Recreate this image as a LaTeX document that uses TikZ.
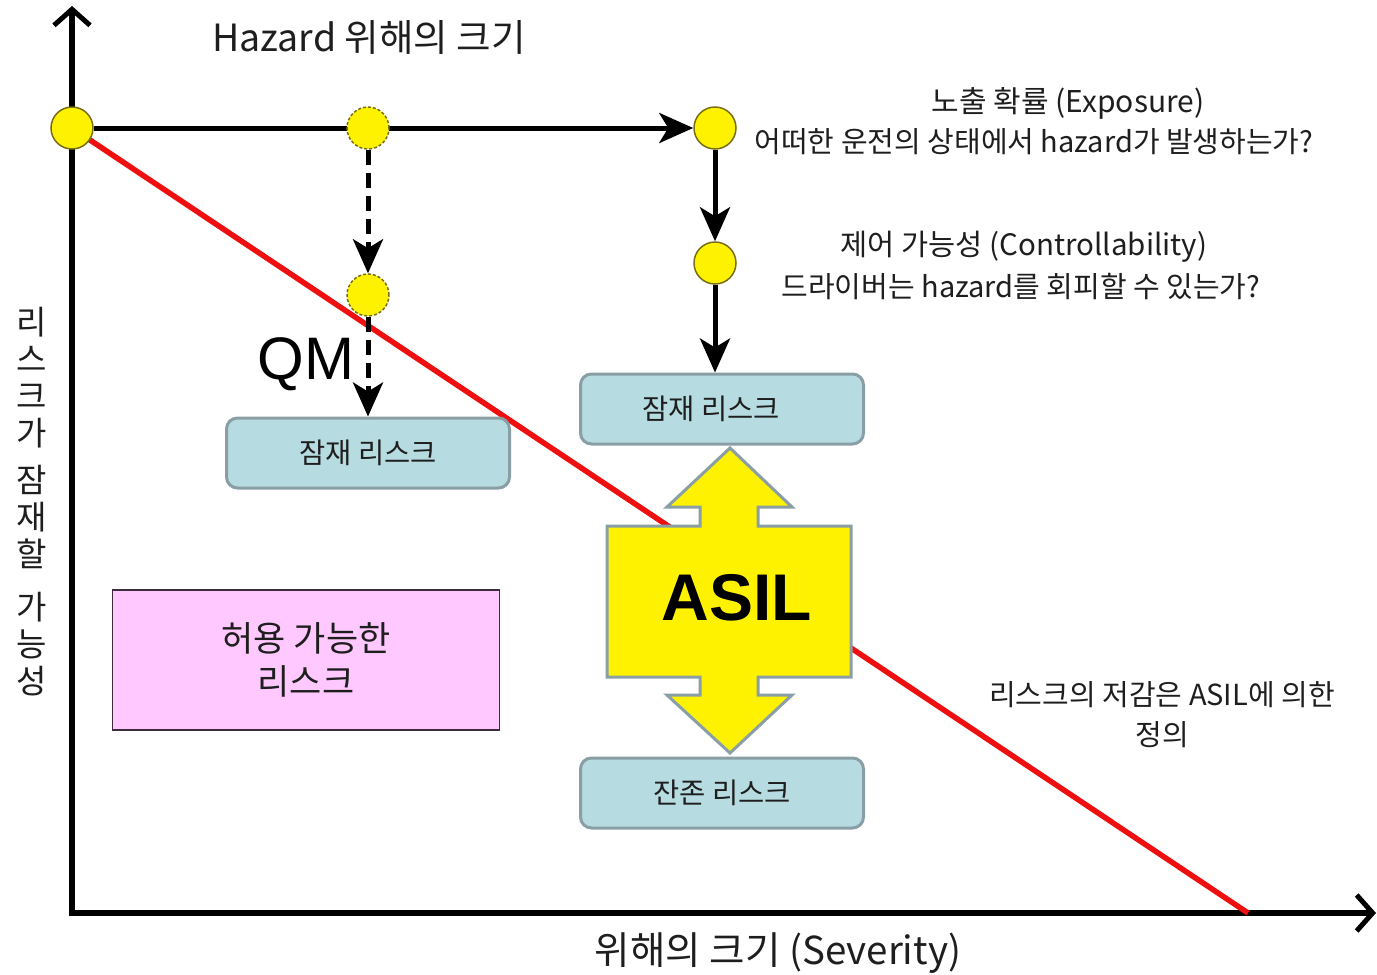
\documentclass[tikz,border=0pt]{standalone}
\usepackage{fontspec}
\setmainfont{Noto Sans CJK KR}
\newfontfamily\arialfont{Liberation Sans}
\usetikzlibrary{arrows.meta}
\pgfdeclarelayer{background}
\pgfsetlayers{background,main}
\newcommand{\fsz}[2]{\fontsize{#1}{#2}\selectfont}

\definecolor{boxfill}{RGB}{182,219,224}
\definecolor{boxline}{RGB}{138,158,165}
\definecolor{pinkfill}{RGB}{255,200,255}
\definecolor{pinkline}{RGB}{60,44,60}
\definecolor{riskred}{RGB}{238,16,16}
\definecolor{dotline}{RGB}{120,110,20}
\definecolor{ink}{RGB}{30,30,30}

\tikzset{
  axis/.style={line width=6pt, -{Straight Barb[length=16pt,width=36pt,line width=5pt]}},
  flow/.style={line width=5pt, -{Stealth[length=34pt,width=30pt,inset=9pt]}},
  dflow/.style={flow, dash pattern=on 15pt off 8pt},
  riskline/.style={line width=5.5pt, draw=riskred},
  dot/.style={circle, fill=yellow, draw=dotline, line width=1.5pt, minimum size=42pt, inner sep=0pt},
  ddot/.style={dot, dash pattern=on 3pt off 2pt},
  riskbox/.style={rounded corners=11pt, fill=boxfill, draw=boxline, line width=3pt,
    minimum width=283pt, minimum height=70pt, inner sep=0pt, text=ink, font=\fsz{28.5}{32}},
  label/.style={inner sep=0pt, align=center, text=ink},
  asilshape/.style={fill=yellow, draw=boxline, line width=3pt, line join=miter}
}

\begin{document}
\begin{tikzpicture}[x=1pt,y=-1pt]
\useasboundingbox (0,0) rectangle (1377,975);

% nodes on the risk path
\node[dot]  (A) at (72,128) {};
\node[ddot] (B) at (368,128) {};
\node[dot]  (C) at (715,128) {};
\node[dot]  (D) at (715,263) {};
\node[ddot] (E) at (368,295) {};

% risk boxes
\node[riskbox] (lat1) at (368,453) {잠재 리스크};
\node[riskbox] (lat2) at (722,409) {잠재 리스크\hspace*{22pt}};
\node[riskbox] (res)  at (722,793) {잔존 리스크};

% tolerable risk region
\node[label, fill=pinkfill, draw=pinkline, line width=1.5pt, minimum width=387pt,
      minimum height=140pt, font=\fsz{35}{43}] (tol) at (306,660) {허용 가능한\\리스크};

% ASIL double arrow between the risk boxes
\draw[asilshape] (730,448) -- (792,507) -- (758,507) -- (758,526) -- (851,526)
  -- (851,677) -- (758,677) -- (758,695) -- (792,695) -- (730,753) -- (667,695)
  -- (700,695) -- (700,677) -- (607,677) -- (607,526) -- (700,526) -- (700,507)
  -- (667,507) -- cycle;
\node[label, font=\arialfont\bfseries\fsz{66}{70}, text=black] (asil) at (737,598) {ASIL};

% axes, risk line and exposure path underneath everything else
\coordinate (O) at (72,913);
\coordinate (Ytip) at (72,6);
\coordinate (Xtip) at (1376,913);
\coordinate (Rend) at (1248,913);
\begin{pgfonlayer}{background}
  \draw[axis] (72,916) -- (Ytip);
  \draw[axis] (69,913) -- (Xtip);
  \draw[riskline] (A.center) -- (Rend);
  \draw[flow] (A) -- (C);
\end{pgfonlayer}

% vertical steps
\draw[flow] (C) -- (D);
\draw[flow] (D) -- (D |- lat2.north);
\draw[dflow] (B) -- (E);
\draw[dflow] (E) -- (lat1.north);

% labels
\node[label, font=\fsz{37.5}{40}] (title) at (369,37) {Hazard 위해의 크기};
\node[label, font=\fsz{30}{34}] (expo) at (1068,103) {노출 확률 (Exposure)};
\node[label, font=\fsz{29}{34}] (expoq) at (1034,142) {어떠한 운전의 상태에서 hazard가 발생하는가?};
\node[label, font=\fsz{29.5}{34}] (ctrl) at (1024,247) {제어 가능성 (Controllability)};
\node[label, font=\fsz{29}{34}] (ctrlq) at (1021,287) {드라이버는 hazard를 회피할 수 있는가?};
\node[label, font=\arialfont\fsz{60}{64}, text=black] (qm) at (306,364) {QM};
\node[label, font=\fsz{29}{40}] (reduce) at (1162,715) {리스크의 저감은 ASIL에 의한\\정의};
\node[label, font=\fsz{38.5}{40}] (sev) at (778,953) {위해의 크기 (Severity)};
\node[label, font=\fsz{33}{37}] (prob) at (32,502)
  {리\\스\\크\\가\\[10pt]잠\\재\\할\\[16pt]가\\능\\성};
\end{tikzpicture}
\end{document}
